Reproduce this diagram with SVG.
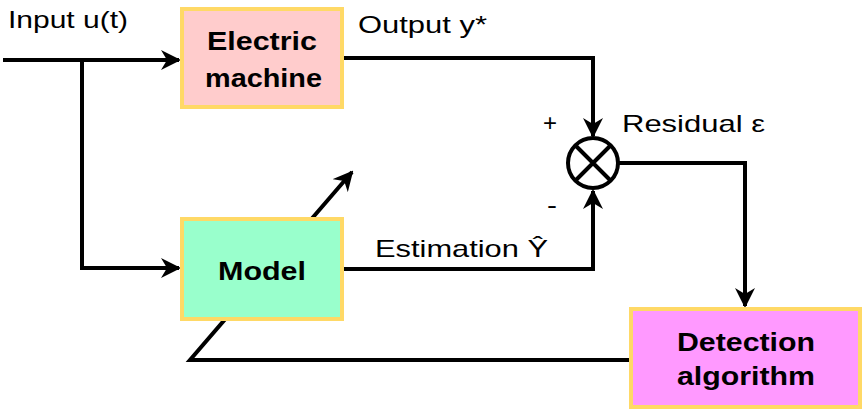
<svg xmlns="http://www.w3.org/2000/svg" width="863" height="410" viewBox="0 0 863 410">
<style>
.box{stroke:#FFD966;stroke-width:4}
.bt{font-family:"Liberation Sans",Arial,sans-serif;font-weight:bold;font-size:25px;fill:#000}
.lt{font-family:"Liberation Sans",Arial,sans-serif;font-size:24px;fill:#000}
.ln{fill:none;stroke:#000;stroke-width:4}
</style>
<defs>
<marker id="ar" viewBox="0 0 10 10" refX="9" refY="5" markerWidth="5" markerHeight="5" markerUnits="strokeWidth" orient="auto">
<path d="M0,0 L10,5 L0,10 L3,5 Z" fill="#000"/>
</marker>
</defs>
<g id="connectors">
<path class="ln" d="M3,60 H179" marker-end="url(#ar)"/>
<path class="ln" d="M82,60 V268 H179" marker-end="url(#ar)"/>
<path class="ln" d="M342,58 H593 V136" marker-end="url(#ar)"/>
<path class="ln" d="M342,269 H593 V191" marker-end="url(#ar)"/>
<path class="ln" d="M618,163 H745 V306" marker-end="url(#ar)"/>
<path class="ln" d="M631,360 H190 L352,172" marker-end="url(#ar)"/>
</g>
<g id="electric">
<rect class="box" x="182" y="9" width="160" height="98" fill="#FFCCCC"/>
<text class="bt" x="207" y="50" textLength="110" lengthAdjust="spacingAndGlyphs">Electric</text>
<text class="bt" x="205" y="87" textLength="117" lengthAdjust="spacingAndGlyphs">machine</text>
</g>
<g id="model">
<rect class="box" x="182" y="219" width="160" height="100" fill="#99FFCC"/>
<text class="bt" x="218" y="280" textLength="88" lengthAdjust="spacingAndGlyphs">Model</text>
</g>
<g id="detection">
<rect class="box" x="631" y="309" width="229" height="98" fill="#FF99FF"/>
<text class="bt" x="677" y="351" textLength="138" lengthAdjust="spacingAndGlyphs">Detection</text>
<text class="bt" x="677" y="385" textLength="138" lengthAdjust="spacingAndGlyphs">algorithm</text>
</g>
<g id="sum">
<circle cx="593" cy="163" r="25" fill="#fff" stroke="#000" stroke-width="4"/>
<path d="M575,145 L611,181 M611,145 L575,181" stroke="#000" stroke-width="4"/>
</g>
<g id="labels">
<text class="lt" x="8" y="28" textLength="120" lengthAdjust="spacingAndGlyphs">Input u(t)</text>
<text class="lt" x="358" y="33" textLength="129" lengthAdjust="spacingAndGlyphs">Output y*</text>
<text class="lt" x="543" y="131">+</text>
<text class="lt" x="547" y="213" textLength="10" lengthAdjust="spacingAndGlyphs">-</text>
<text class="lt" x="622" y="132" textLength="143" lengthAdjust="spacingAndGlyphs">Residual ε</text>
<text class="lt" x="375" y="257" textLength="173" lengthAdjust="spacingAndGlyphs">Estimation Ŷ</text>
</g>
</svg>
